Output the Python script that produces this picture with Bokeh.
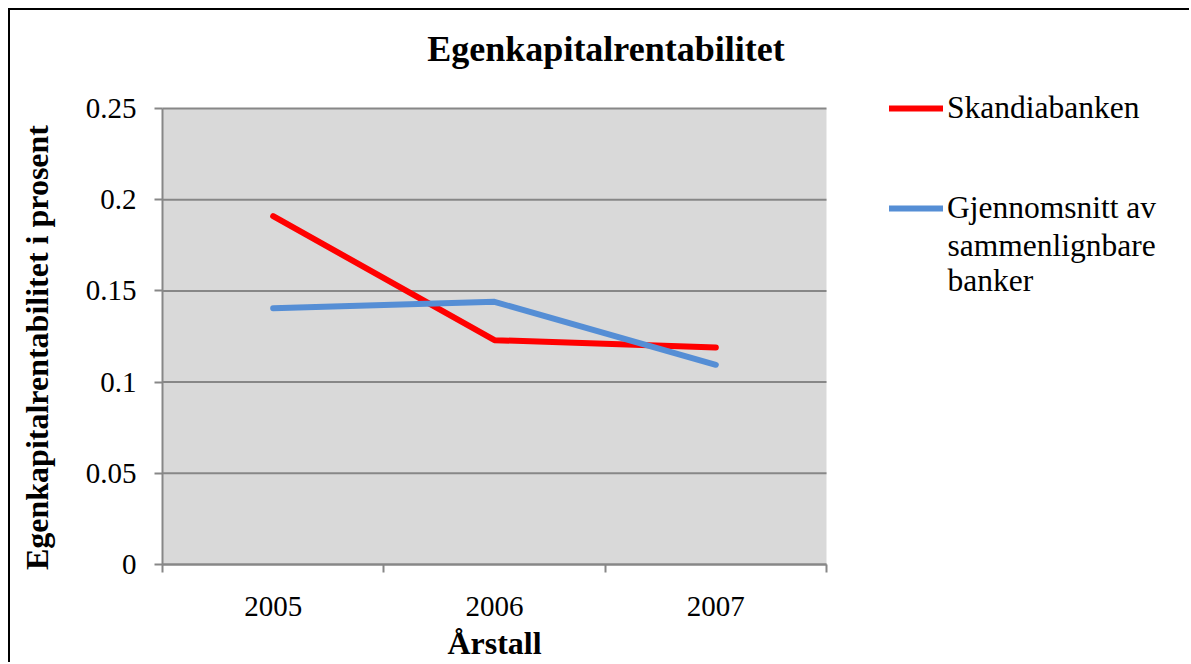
import math
from bokeh.plotting import figure
from bokeh.models import Range1d, FixedTicker, Legend, LegendItem, Label, BoxAnnotation
from bokeh.embed import file_html
from bokeh.resources import INLINE

# ---- data ----
years = ["2005", "2006", "2007"]
skandiabanken = [0.191, 0.123, 0.119]
gjennomsnitt = [0.1405, 0.144, 0.1095]
y_ticks = [0, 0.05, 0.1, 0.15, 0.2, 0.25]
y_tick_labels = ["0", "0.05", "0.1", "0.15", "0.2", "0.25"]
title_text = "Egenkapitalrentabilitet"
x_title = "Årstall"
y_title = "Egenkapitalrentabilitet i prosent"
legend_lines = [["Skandiabanken"], ["Gjennomsnitt av", "sammenlignbare", "banker"]]

# ---- layout (canvas pixels) ----
W, H = 1181, 654
PL, PT, PR, PB = 152, 98, 816, 554      # plot area edges on the canvas
NX = len(years)
Y_MAX = y_ticks[-1]
SX = (PR - PL) / NX
SY = (PB - PT) / Y_MAX
BASE_SHIFT = 0.38                        # baseline correction, in em

FONT = "Liberation Serif"
GRAY = "#878787"
PLOT_BG = "#D9D9D9"


def to_data(cx, cy):
    return ((cx - PL) / SX, (PB - cy) / SY)


xs = [i + 0.5 for i in range(NX)]

p = figure(width=W, height=H, title=None,
           x_range=Range1d(-PL / SX, NX + (W - PR) / SX),
           y_range=Range1d(-(H - PB) / SY, Y_MAX + PT / SY),
           output_backend="svg", toolbar_location=None,
           min_border_left=0, min_border_top=0, min_border_right=0, min_border_bottom=0)
p.styles = {"margin-left": "8px", "margin-top": "8px",
            "border-left": "2px solid black", "border-top": "2px solid black",
            "border-right": "0px none", "border-bottom": "0px none",
            "outline": "none", "box-shadow": "none", "overflow": "hidden"}
p.background_fill_color = "white"
p.border_fill_color = "white"
p.outline_line_color = None
p.xgrid.visible = False
p.ygrid.visible = False

# plot area background and horizontal gridlines
p.add_layout(BoxAnnotation(left=0, right=NX, bottom=0, top=Y_MAX,
                           fill_color=PLOT_BG, fill_alpha=1, line_color=None,
                           level="image"))
p.segment(x0=[0] * len(y_ticks), x1=[NX] * len(y_ticks), y0=y_ticks, y1=y_ticks,
          line_color=GRAY, line_width=2)

r1 = p.line(xs, skandiabanken, line_color="#FF0000", line_width=6,
            line_cap="round", line_join="round")
r2 = p.line(xs, gjennomsnitt, line_color="#558ED5", line_width=6,
            line_cap="round", line_join="round")

# axes
for ax in p.axis:
    ax.fixed_location = 0
    ax.axis_line_color = GRAY
    ax.axis_line_width = 2
    ax.major_label_text_font = FONT
    ax.major_label_text_font_size = "29px"
    ax.major_label_text_color = "black"

xa = p.xaxis[0]
xa.bounds = (0, NX)
xa.ticker = FixedTicker(ticks=xs, minor_ticks=list(range(NX + 1)))
xa.major_label_overrides = {x: y for x, y in zip(xs, years)}
xa.major_tick_out = 0
xa.major_tick_in = 0
xa.major_tick_line_color = None
xa.minor_tick_out = 8
xa.minor_tick_in = 0
xa.minor_tick_line_color = GRAY
xa.minor_tick_line_width = 2
xa.major_label_standoff = 24

ya = p.yaxis[0]
ya.bounds = (0, Y_MAX)
ya.ticker = FixedTicker(ticks=y_ticks)
ya.major_label_overrides = {t: s for t, s in zip(y_ticks, y_tick_labels)}
ya.major_tick_out = 8
ya.major_tick_in = 0
ya.major_tick_line_color = GRAY
ya.major_tick_line_width = 2
ya.minor_tick_line_color = None
ya.major_label_standoff = 18


def add_text(text, cx, cy, size, bold=False, align="left", angle=0.0):
    shift = BASE_SHIFT * size
    if angle:
        cx -= shift
    else:
        cy -= shift
    x, y = to_data(cx, cy)
    p.add_layout(Label(x=x, y=y, text=text, text_font=FONT,
                       text_font_size=f"{size}px",
                       text_font_style="bold" if bold else "normal",
                       text_color="black", angle=angle,
                       text_align=align, text_baseline="alphabetic"))


# titles (positions are baselines on the canvas)
add_text(title_text, 595.5, 52, 36, bold=True, align="center")
add_text(x_title, (PL + PR) / 2, 645, 32, bold=True, align="center")
add_text(y_title, 39, 337, 32, bold=True, align="center", angle=math.pi / 2)

# legend
legend = Legend(items=[LegendItem(label=legend_lines[0][0], renderers=[r1]),
                       LegendItem(label=legend_lines[1][0], renderers=[r2])],
                location=(879, H - 216), glyph_width=54, glyph_height=36,
                label_height=36, spacing=64, padding=0, margin=0,
                label_standoff=4, border_line_color=None,
                background_fill_alpha=0, label_text_font=FONT,
                label_text_font_size="31.5px", label_text_color="black")
p.add_layout(legend)
for i, line in enumerate(legend_lines[1][1:]):
    add_text(line, 937, 246.7 + 35 * i, 31.5)

open("out.html", "w").write(file_html(p, INLINE))
